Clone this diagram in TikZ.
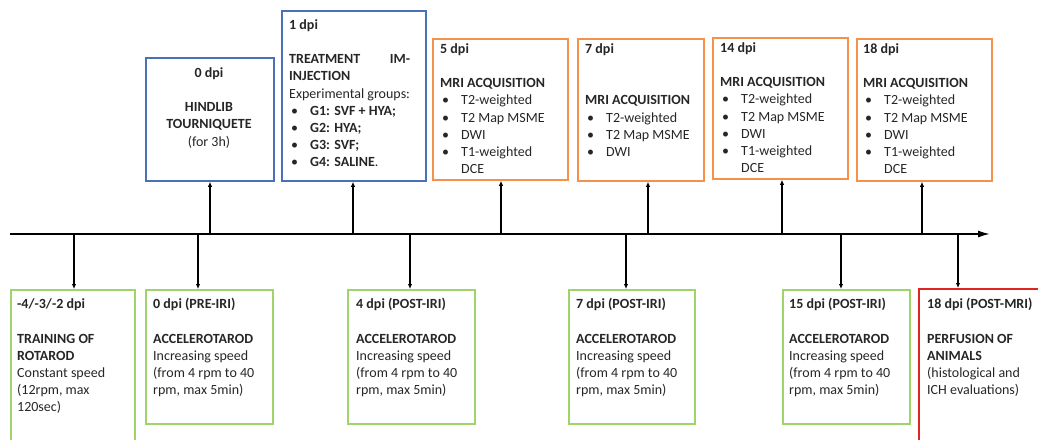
\documentclass[tikz,border=0pt]{standalone}
\usepackage{fontspec}
\setmainfont{Carlito}
\usetikzlibrary{arrows.meta}
\definecolor{bblue}{HTML}{4A70B8}
\definecolor{borange}{HTML}{F4914A}
\definecolor{bgreen}{HTML}{9FD46A}
\definecolor{bred}{HTML}{E02424}
\definecolor{txt}{HTML}{262626}
\newcommand{\bl}[1]{\hspace*{2pt}\makebox[19pt][l]{\textbullet}#1}
\newcommand{\cont}[1]{\hspace*{21pt}#1}
\newcommand{\fs}{\fontsize{14}{17.2}\selectfont}
\newcommand{\fl}{\rule{0pt}{11pt}}
\begin{document}
\begin{tikzpicture}[x=1pt,y=-1pt,
  boxst/.style={draw, line width=1.8pt, inner sep=0pt, anchor=north west},
  tl/.style={anchor=north west, inner sep=0pt, align=left, font=\fs, text=txt},
  tc/.style={anchor=north, inner sep=0pt, align=center, font=\fs, text=txt},
  arr/.style={line width=1.3pt, -{Latex[length=5pt,width=4.5pt]}},
  blu/.style={boxst, draw=bblue},
  org/.style={boxst, draw=borange},
  grn/.style={boxst, draw=bgreen},
  rd/.style={boxst, draw=bred}]
\useasboundingbox (0,0) rectangle (1038,439);
\clip (0,0) rectangle (1038,439);
% boxes top
\node[blu, minimum width=128pt, minimum height=123pt] (b0) at (145,57) {};
\node[blu, minimum width=144pt, minimum height=170pt] (b1) at (281,10) {};
\node[org, minimum width=135pt, minimum height=141pt] (b5) at (432,38) {};
\node[org, minimum width=126pt, minimum height=142pt] (b7) at (577,38) {};
\node[org, minimum width=135pt, minimum height=141pt] (b14) at (712,37) {};
\node[org, minimum width=135pt, minimum height=142pt] (b18) at (856,38) {};
% boxes bottom
\node[grn, minimum width=124pt, minimum height=170pt] (cm) at (10,289) {};
\node[grn, minimum width=127pt, minimum height=134pt] (c0) at (145,289) {};
\node[grn, minimum width=127pt, minimum height=134pt] (c4) at (347,289) {};
\node[grn, minimum width=126pt, minimum height=134pt] (c7) at (568,289) {};
\node[grn, minimum width=127pt, minimum height=134pt] (c15) at (782,289) {};
\node[rd, minimum width=140pt, minimum height=170pt] (c18) at (918,288) {};
% timeline
\coordinate (ts) at (10,234);
\coordinate (te) at (990,234);
\draw[line width=1.6pt, -{Latex[length=12pt,width=7pt]}] (ts) -- (te);
\foreach \n/\x in {u0/210,u1/353,u5/501,u7/648,u14/782,u18/922,dm/74,d0/198,d4/410,d7/626,d15/841,d18/958}
  \coordinate (\n) at (\x,234);
\draw[arr] (u0) -- (u0 |- b0.south);
\draw[arr] (u1) -- (u1 |- b1.south);
\draw[arr] (u5) -- (u5 |- b5.south);
\draw[arr] (u7) -- (u7 |- b7.south);
\draw[arr] (u14) -- (u14 |- b14.south);
\draw[arr] (u18) -- (u18 |- b18.south);
\draw[arr] (dm) -- (dm |- cm.north);
\draw[arr] (d0) -- (d0 |- c0.north);
\draw[arr] (d4) -- (d4 |- c4.north);
\draw[arr] (d7) -- (d7 |- c7.north);
\draw[arr] (d15) -- (d15 |- c15.north);
\draw[arr] (d18) -- (d18 |- c18.north);
% texts top
\node[tc] (t0) at (209,66) {\fl\textbf{0 dpi}\\[17.2pt]\textbf{HINDLIB}\\\textbf{TOURNIQUETE}\\(for 3h)};
\node[tl] (t1) at (289,18) {\fl\textbf{1 dpi}\\[17.2pt]\makebox[121pt][l]{\textbf{TREATMENT}\hfill\textbf{IM-}}\\\textbf{INJECTION}\\Experimental groups:\\\bl{\textbf{G1: SVF + HYA;}}\\\bl{\textbf{G2: HYA;}}\\\bl{\textbf{G3: SVF;}}\\\bl{\textbf{G4: SALINE}.}};
\node[tl] (t5) at (440,42) {\fl\textbf{5 dpi}\\[17.2pt]\textbf{MRI ACQUISITION}\\\bl{T2-weighted}\\\bl{T2 Map MSME}\\\bl{DWI}\\\bl{T1-weighted}\\\cont{DCE}};
\node[tl] (t7) at (585,42) {\fl\textbf{7 dpi}\\[34.4pt]\textbf{MRI ACQUISITION}\\\bl{T2-weighted}\\\bl{T2 Map MSME}\\\bl{DWI}};
\node[tl] (t14) at (720,41) {\fl\textbf{14 dpi}\\[17.2pt]\textbf{MRI ACQUISITION}\\\bl{T2-weighted}\\\bl{T2 Map MSME}\\\bl{DWI}\\\bl{T1-weighted}\\\cont{DCE}};
\node[tl] (t18) at (863,42) {\fl\textbf{18 dpi}\\[17.2pt]\textbf{MRI ACQUISITION}\\\bl{T2-weighted}\\\bl{T2 Map MSME}\\\bl{DWI}\\\bl{T1-weighted}\\\cont{DCE}};
% texts bottom
\node[tl] (tm) at (17,297.5) {\fl\textbf{-4/-3/-2 dpi}\\[17.2pt]\textbf{TRAINING OF}\\\textbf{ROTAROD}\\Constant speed\\(12rpm, max\\120sec)};
\node[tl] (s0) at (153,297.5) {\fl\textbf{0 dpi (PRE-IRI)}\\[17.2pt]\textbf{ACCELEROTAROD}\\Increasing speed\\(from 4 rpm to 40\\rpm, max 5min)};
\node[tl] (s4) at (356,297.5) {\fl\textbf{4 dpi (POST-IRI)}\\[17.2pt]\textbf{ACCELEROTAROD}\\Increasing speed\\(from 4 rpm to 40\\rpm, max 5min)};
\node[tl] (s7) at (576,297.5) {\fl\textbf{7 dpi (POST-IRI)}\\[17.2pt]\textbf{ACCELEROTAROD}\\Increasing speed\\(from 4 rpm to 40\\rpm, max 5min)};
\node[tl] (s15) at (789,297.5) {\fl\textbf{15 dpi (POST-IRI)}\\[17.2pt]\textbf{ACCELEROTAROD}\\Increasing speed\\(from 4 rpm to 40\\rpm, max 5min)};
\node[tl] (s18) at (927,297.5) {\fl\textbf{18 dpi (POST-MRI)}\\[17.2pt]\textbf{PERFUSION OF}\\\textbf{ANIMALS}\\(histological and\\ICH evaluations)};
\end{tikzpicture}
\end{document}
